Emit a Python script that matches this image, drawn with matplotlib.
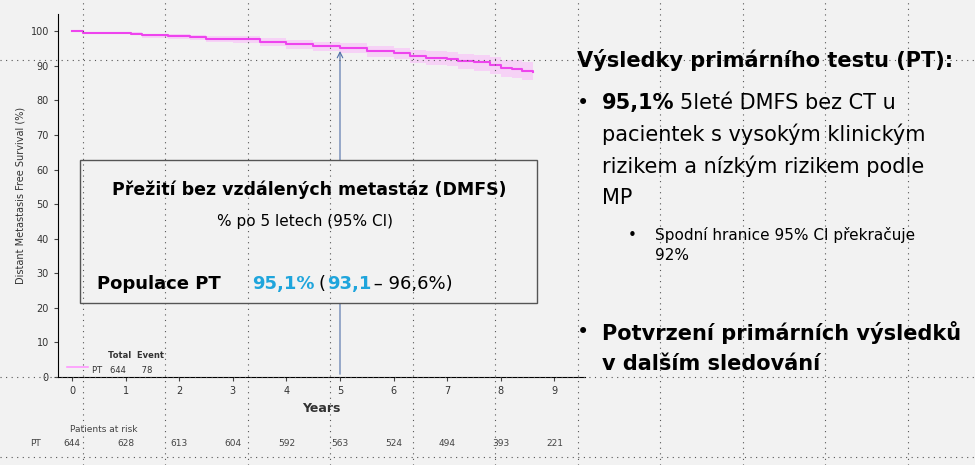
import numpy as np
import matplotlib.pyplot as plt
from matplotlib.patches import Rectangle

# KM curve
years = [0, 0.2, 1.1, 1.3, 1.8, 2.2, 2.5, 3.0, 3.5, 4.0, 4.5, 5.0, 5.5, 6.0, 6.3, 6.6, 7.0, 7.2, 7.5, 7.8, 8.0, 8.2, 8.4, 8.6]
dmfs = [100, 99.5, 99.3, 98.8, 98.6, 98.3, 97.8, 97.7, 97.0, 96.3, 95.7, 95.1, 94.3, 93.8, 92.8, 92.4, 92.1, 91.3, 91.0, 90.3, 89.5, 89.2, 88.5, 88.1]
ci_lo = [100, 99.2, 98.8, 98.1, 97.8, 97.4, 96.8, 96.6, 95.8, 95.0, 94.3, 93.6, 92.7, 92.0, 90.9, 90.3, 89.9, 89.0, 88.6, 87.7, 86.9, 86.5, 85.8, 85.2]
ci_hi = [100, 99.8, 99.7, 99.3, 99.2, 99.0, 98.6, 98.6, 98.0, 97.4, 96.9, 96.5, 95.7, 95.3, 94.5, 94.2, 94.0, 93.3, 93.1, 92.5, 91.8, 91.6, 91.0, 90.6]
x_ticks = list(range(10))
y_ticks = list(range(0, 101, 10))
at_risk = [644, 628, 613, 604, 592, 563, 524, 494, 393, 221]

fig = plt.figure(figsize=(9.75, 4.65), dpi=100)
fig.patch.set_facecolor('#f2f2f2')

# slide guide dots
for gx in np.arange(0.085, 1.0, 0.0846):
    fig.add_artist(plt.Line2D([gx, gx], [0, 1], color='#555555', lw=0.8, ls=(0, (1, 4))))
for gy in [1 - 60 / 465, 1 - 377 / 465, 1 - 457 / 465]:
    fig.add_artist(plt.Line2D([0, 1], [gy, gy], color='#555555', lw=0.8, ls=(0, (1, 4))))

ax = fig.add_axes([58 / 975, 1 - 377 / 465, 527 / 975, 363 / 465])
ax.set_facecolor('none')
ax.fill_between(years, ci_lo, ci_hi, step='post', color='#ff99ff', alpha=0.35, lw=0)
ax.step(years, dmfs, where='post', color='#ee44ee', lw=1.5)
ax.set_xlim(-0.26, 9.57)
ax.set_ylim(0, 105)
ax.set_xticks(x_ticks)
ax.set_yticks(y_ticks)
ax.tick_params(labelsize=7, length=3, color='#444444', labelcolor='#333333')
for s in ['top', 'right']:
    ax.spines[s].set_visible(False)
ax.set_xlabel('Years', fontsize=9, fontweight='bold', color='#333333', labelpad=4)
ax.set_ylabel('Distant Metastasis Free Survival (%)', fontsize=7, color='#333333')

# arrow at 5 years
ax.annotate('', xy=(5, 95.1), xytext=(5, 0), arrowprops=dict(arrowstyle='->', color='#4f6fa8', lw=0.8))

# legend
ax.plot([-0.1, 0.3], [3, 3], color='#ff99ff', lw=1.2)
ax.text(0.68, 5.5, 'Total  Event', fontsize=6, fontweight='bold', color='#333333')
ax.text(0.38, 1.3, 'PT   644      78', fontsize=6, color='#333333')

# patients at risk
fig.text(70 / 975, 1 - 429 / 465, 'Patients at risk', fontsize=6.5, color='#444444', va='center')
fig.text(30 / 975, 1 - 443 / 465, 'PT', fontsize=6.5, color='#444444', va='center')
for i, n in enumerate(at_risk):
    fig.text((72 + i * 53.6) / 975, 1 - 443 / 465, str(n), fontsize=6.5, color='#444444', ha='center', va='center')

# inset box
fig.add_artist(Rectangle((80 / 975, 1 - 303 / 465), 457 / 975, 143 / 465, fill=True,
                         facecolor='#f2f2f2', edgecolor='#555555', lw=1))
fig.text(309 / 975, 1 - 190 / 465, 'Přežití bez vzdálených metastáz (DMFS)', fontsize=12.5,
         fontweight='bold', ha='center', va='center')
fig.text(305 / 975, 1 - 221 / 465, '% po 5 letech (95% CI)', fontsize=11, ha='center', va='center')
fig.text(97 / 975, 1 - 284 / 465, 'Populace PT', fontsize=13, fontweight='bold', va='center')
t = fig.text(252 / 975, 1 - 284 / 465, '95,1%', fontsize=13, fontweight='bold', color='#1fa5dc', va='center')
fig.text(318 / 975, 1 - 284 / 465, '(', fontsize=13, va='center')
fig.text(327 / 975, 1 - 284 / 465, '93,1', fontsize=13, fontweight='bold', color='#1fa5dc', va='center')
fig.text(368 / 975, 1 - 284 / 465, ' – 96,6%)', fontsize=13, va='center')

# right-hand text
fig.text(577 / 975, 1 - 60 / 465, 'Výsledky primárního testu (PT):', fontsize=15, fontweight='bold', va='center')
fig.text(577 / 975, 1 - 103 / 465, '•', fontsize=15, va='center')
fig.text(602 / 975, 1 - 103 / 465, '95,1%', fontsize=15, fontweight='bold', va='center')
fig.text(680 / 975, 1 - 103 / 465, '5leté DMFS bez CT u', fontsize=15, va='center')
for k, line in enumerate(['pacientek s vysokým klinickým', 'rizikem a nízkým rizikem podle', 'MP']):
    fig.text(602 / 975, 1 - (134 + 32 * k) / 465, line, fontsize=15, va='center')
fig.text(628 / 975, 1 - 235 / 465, '•', fontsize=11, va='center')
fig.text(655 / 975, 1 - 235 / 465, 'Spodní hranice 95% CI překračuje', fontsize=11, va='center')
fig.text(655 / 975, 1 - 256 / 465, '92%', fontsize=11, va='center')
fig.text(577 / 975, 1 - 332 / 465, '•', fontsize=15, va='center')
fig.text(602 / 975, 1 - 332 / 465, 'Potvrzení primárních výsledků', fontsize=15, fontweight='bold', va='center')
fig.text(602 / 975, 1 - 364 / 465, 'v dalším sledování', fontsize=15, fontweight='bold', va='center')

fig.savefig('out.png', dpi=100, facecolor=fig.get_facecolor())
